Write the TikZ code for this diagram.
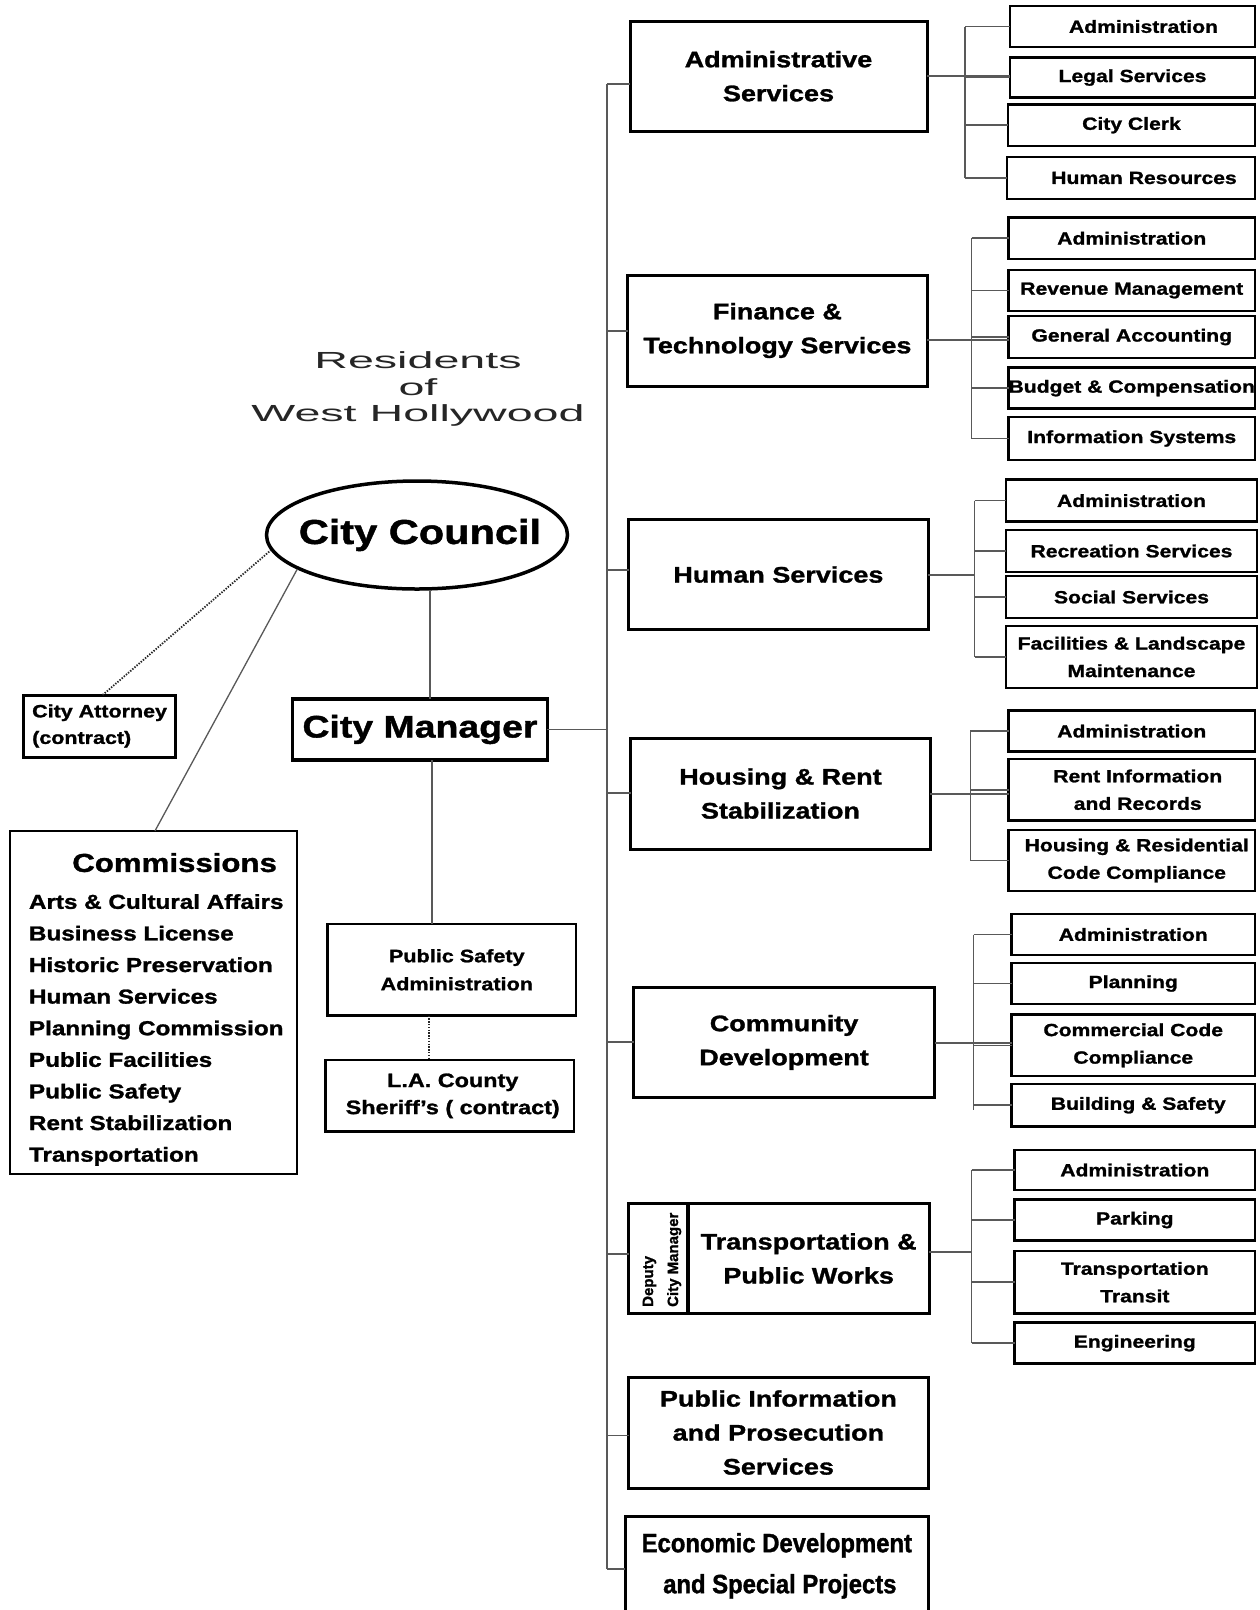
\documentclass[tikz,border=0pt]{standalone}
\usepackage{fontspec}
\newfontfamily\hb[FakeStretch=1.2,FakeBold=1.3]{Liberation Sans Bold}
\newfontfamily\hbn[FakeBold=1.3]{Liberation Sans Bold}
\newfontfamily\hbc[FakeStretch=0.9,FakeBold=1.3]{Liberation Sans Bold}
\newfontfamily\hwide[FakeStretch=2.0]{Liberation Sans}
\usetikzlibrary{shapes.geometric}
\newcommand\fs[2]{\fontsize{#1}{#2}\selectfont}
\newcommand\bx[7]{\node[#1, minimum width={(#4)-(#2)}, minimum height={(#5)-(#3)}] (#6) at ({((#2)+(#4))/2},{((#3)+(#5))/2}) {#7};}
\begin{document}
\begin{tikzpicture}[x=1pt,y=-1pt,
  base/.style={draw=black, inner sep=0pt, outer sep=0pt, align=center, text=black},
  dept/.style={base, line width=3pt, font=\hb\fs{22.5}{34}},
  sub/.style={base, line width=2.5pt, font=\hb\fs{17.6}{27.5}},
  conn/.style={draw=black!65, line width=1.6pt},
  dots/.style={draw=black!85, line width=1.8pt, dash pattern=on 1.4pt off 1.4pt}]
\useasboundingbox[fill=white] (0,0) rectangle (1260,1610);

% ---------- left side ----------
\node[font=\hwide\fs{23.3}{26.7}, align=center, text=black!85] (res) at (418,389) {Residents\\of\\West Hollywood};
\node[ellipse, draw=black, line width=3.5pt, minimum width=301pt, minimum height=108pt, inner sep=0pt, font=\hb\fs{34.6}{40}, text=black] (cc) at (417,535) {\makebox[0pt]{\hspace*{6pt}City Council}};
\bx{base, line width=3.5pt, font=\hb\fs{31.2}{36}}{292.7}{699}{547.3}{760}{cm}{City Manager}
\bx{base, line width=3pt, align=left, font=\hb\fs{17.9}{26.5}}{23.6}{695}{175.6}{757}{ca}{City Attorney\\(contract)}
\bx{base, line width=2.5pt, font=\hb\fs{18}{28}}{327.6}{924}{576}{1015.6}{psa}{\hspace*{10pt}Public Safety\\\hspace*{10pt}Administration}
\bx{base, line width=2.5pt, font=\hb\fs{19.5}{27}}{325.5}{1060}{574}{1131.6}{sh}{\hspace*{6pt}L.A. County\\\hspace*{6pt}Sheriff’s ( contract)}
\bx{base, line width=2pt}{10.3}{830.8}{296.8}{1173.7}{comm}{}
\node[font=\hb\fs{26}{30}, text=black] (commh) at (174.6,862.6) {Commissions};
\foreach \t [count=\i from 0] in {Arts \& Cultural Affairs, Business License, Historic Preservation, Human Services, Planning Commission, Public Facilities, Public Safety, Rent Stabilization, Transportation}
  \node[font=\hb\fs{20.2}{24}, anchor=base west, inner sep=0pt, text=black] (ci\i) at (28.8,{908.8+31.6*\i}) {\t};

\draw[conn] ([xshift=13pt]cc.south) -- ([xshift=13pt]cc.south |- cm.north);
\draw[conn] ([xshift=12pt]cm.south) -- ([xshift=12pt]cm.south |- psa.north);
\draw[dots] ([xshift=-23pt]psa.south) -- ([xshift=-23pt]psa.south |- sh.north);
\draw[dots] ([xshift=3pt]ca.north) -- (cc.186);
\draw[conn, line width=1.3pt] ([xshift=1.5pt]comm.north) -- (cc.196);

% ---------- trunk ----------
\coordinate (ttop) at (607,84.2);
\coordinate (tbot) at (607,1569);
\draw[conn] (ttop) -- (tbot);
\draw[conn] (cm.east) -- (cm.east -| ttop);

% ---------- departments ----------
\bx{dept}{630}{21}{927}{131.4}{as}{Administrative\\Services}
\bx{dept}{627.5}{275}{927.3}{386}{ft}{Finance \&\\Technology Services}
\bx{dept}{628.5}{519.6}{928.3}{629.5}{hs}{Human Services}
\bx{dept}{630.5}{738}{930.4}{849}{hrs}{Housing \& Rent\\Stabilization}
\bx{dept}{633.6}{987}{934.5}{1097.8}{cd}{Community\\Development}
\bx{dept, line width=3.5pt}{628.5}{1203.5}{688}{1313.4}{dcm}{}
\bx{dept}{688}{1203.5}{929.3}{1313.4}{tpw}{Transportation \&\\Public Works}
\node[rotate=90, anchor=west, align=left, inner sep=0pt, font=\hbn\fs{15}{25}, text=black] (dcmt) at (662,1307) {Deputy\\City Manager};
\bx{dept}{628.5}{1377}{928.3}{1488}{pips}{Public Information\\and Prosecution\\Services}
\bx{dept, font=\hbc\fs{26.5}{41}}{625.4}{1516.7}{928.3}{1615}{ed}{Economic Development\\\hspace*{6pt}and Special Projects}

\coordinate (tft) at (607,330.7);
\coordinate (ths) at (607,570);
\coordinate (thrs) at (607,793);
\coordinate (tcd) at (607,1042);
\coordinate (ttpw) at (607,1254);
\coordinate (tpips) at (607,1435.6);
\draw[conn] (ttop) -- (as.west |- ttop);
\draw[conn] (tft) -- (ft.west |- tft);
\draw[conn] (ths) -- (hs.west |- ths);
\draw[conn] (thrs) -- (hrs.west |- thrs);
\draw[conn] (tcd) -- (cd.west |- tcd);
\draw[conn] (ttpw) -- (dcm.west |- ttpw);
\draw[conn] (tpips) -- (pips.west |- tpips);
\draw[conn] (tbot) -- (ed.west |- tbot);

% ---------- sub units ----------
\bx{sub}{1010}{6}{1255}{47}{as1}{\hspace*{22pt}Administration}
\bx{sub}{1010}{57.5}{1255}{97.6}{as2}{Legal Services}
\bx{sub}{1008}{104.7}{1255}{145.8}{as3}{City Clerk}
\bx{sub}{1007}{157}{1255}{199}{as4}{\hspace*{26pt}Human Resources}

\bx{sub}{1008.5}{217.7}{1255}{258.8}{ft1}{Administration}
\bx{sub}{1008.5}{270}{1255}{311}{ft2}{Revenue Management}
\bx{sub}{1008.5}{316}{1255}{358}{ft3}{General Accounting}
\bx{sub}{1008.5}{367.6}{1255}{408.7}{ft4}{Budget \& Compensation}
\bx{sub}{1008.5}{417}{1255}{460}{ft5}{Information Systems}

\bx{sub}{1006}{479.6}{1257}{521.7}{hs1}{Administration}
\bx{sub}{1006}{530}{1257}{572}{hs2}{Recreation Services}
\bx{sub}{1006}{576}{1257}{618}{hs3}{Social Services}
\bx{sub}{1006}{626}{1257}{688}{hs4}{Facilities \& Landscape\\Maintenance}

\bx{sub}{1008.5}{710.6}{1255}{751.7}{hr1}{Administration}
\bx{sub}{1008.5}{759}{1255}{820.5}{hr2}{\hspace*{12pt}Rent Information\\\hspace*{12pt}and Records}
\bx{sub}{1008.5}{830}{1255}{891}{hr3}{\hspace*{10pt}Housing \& Residential\\\hspace*{10pt}Code Compliance}

\bx{sub}{1011.5}{914}{1255}{955}{cd1}{Administration}
\bx{sub}{1011.5}{963}{1255}{1004}{cd2}{Planning}
\bx{sub}{1011.5}{1014.6}{1255}{1076}{cd3}{Commercial Code\\Compliance}
\bx{sub}{1011.5}{1084}{1255}{1126.5}{cd4}{\hspace*{10pt}Building \& Safety}

\bx{sub}{1014.6}{1150}{1255}{1190}{tp1}{Administration}
\bx{sub}{1014.6}{1199.5}{1255}{1240.5}{tp2}{Parking}
\bx{sub}{1014.6}{1251}{1255}{1313.4}{tp3}{Transportation\\Transit}
\bx{sub}{1014.6}{1322.6}{1255}{1363.7}{tp4}{Engineering}

% ---------- brackets ----------
\coordinate (bas) at (965,76);
\coordinate (bft) at (971.5,340);
\coordinate (bhs) at (974.5,575);
\coordinate (bhr) at (970.4,794);
\coordinate (bcd) at (973.5,1043);
\coordinate (btp) at (971.5,1252);

\draw[conn] (as.east |- bas) -- (as2.west |- bas);
\draw[conn] (as1.west -| bas) -- (as4.west -| bas);
\foreach \n in {as1,as2,as3,as4} \draw[conn] (\n.west -| bas) -- (\n.west);

\draw[conn] (ft.east |- bft) -- (ft3.west |- bft);
\draw[conn] (ft1.west -| bft) -- (ft5.west -| bft);
\foreach \n in {ft1,ft2,ft3,ft4,ft5} \draw[conn] (\n.west -| bft) -- (\n.west);

\draw[conn] (hs.east |- bhs) -- (bhs);
\draw[conn] (hs1.west -| bhs) -- (hs4.west -| bhs);
\foreach \n in {hs1,hs2,hs3,hs4} \draw[conn] (\n.west -| bhs) -- (\n.west);

\draw[conn] (hrs.east |- bhr) -- (hr2.west |- bhr);
\draw[conn] (hr1.west -| bhr) -- (hr3.west -| bhr);
\foreach \n in {hr1,hr2,hr3} \draw[conn] (\n.west -| bhr) -- (\n.west);

\draw[conn] (cd.east |- bcd) -- (cd3.west |- bcd);
\draw[conn] (cd1.west -| bcd) -- ([yshift=-5pt]cd4.west -| bcd);
\foreach \n in {cd1,cd2,cd3,cd4} \draw[conn] (\n.west -| bcd) -- (\n.west);

\draw[conn] (tpw.east |- btp) -- (btp);
\draw[conn] (tp1.west -| btp) -- (tp4.west -| btp);
\foreach \n in {tp1,tp2,tp3,tp4} \draw[conn] (\n.west -| btp) -- (\n.west);
\end{tikzpicture}
\end{document}
